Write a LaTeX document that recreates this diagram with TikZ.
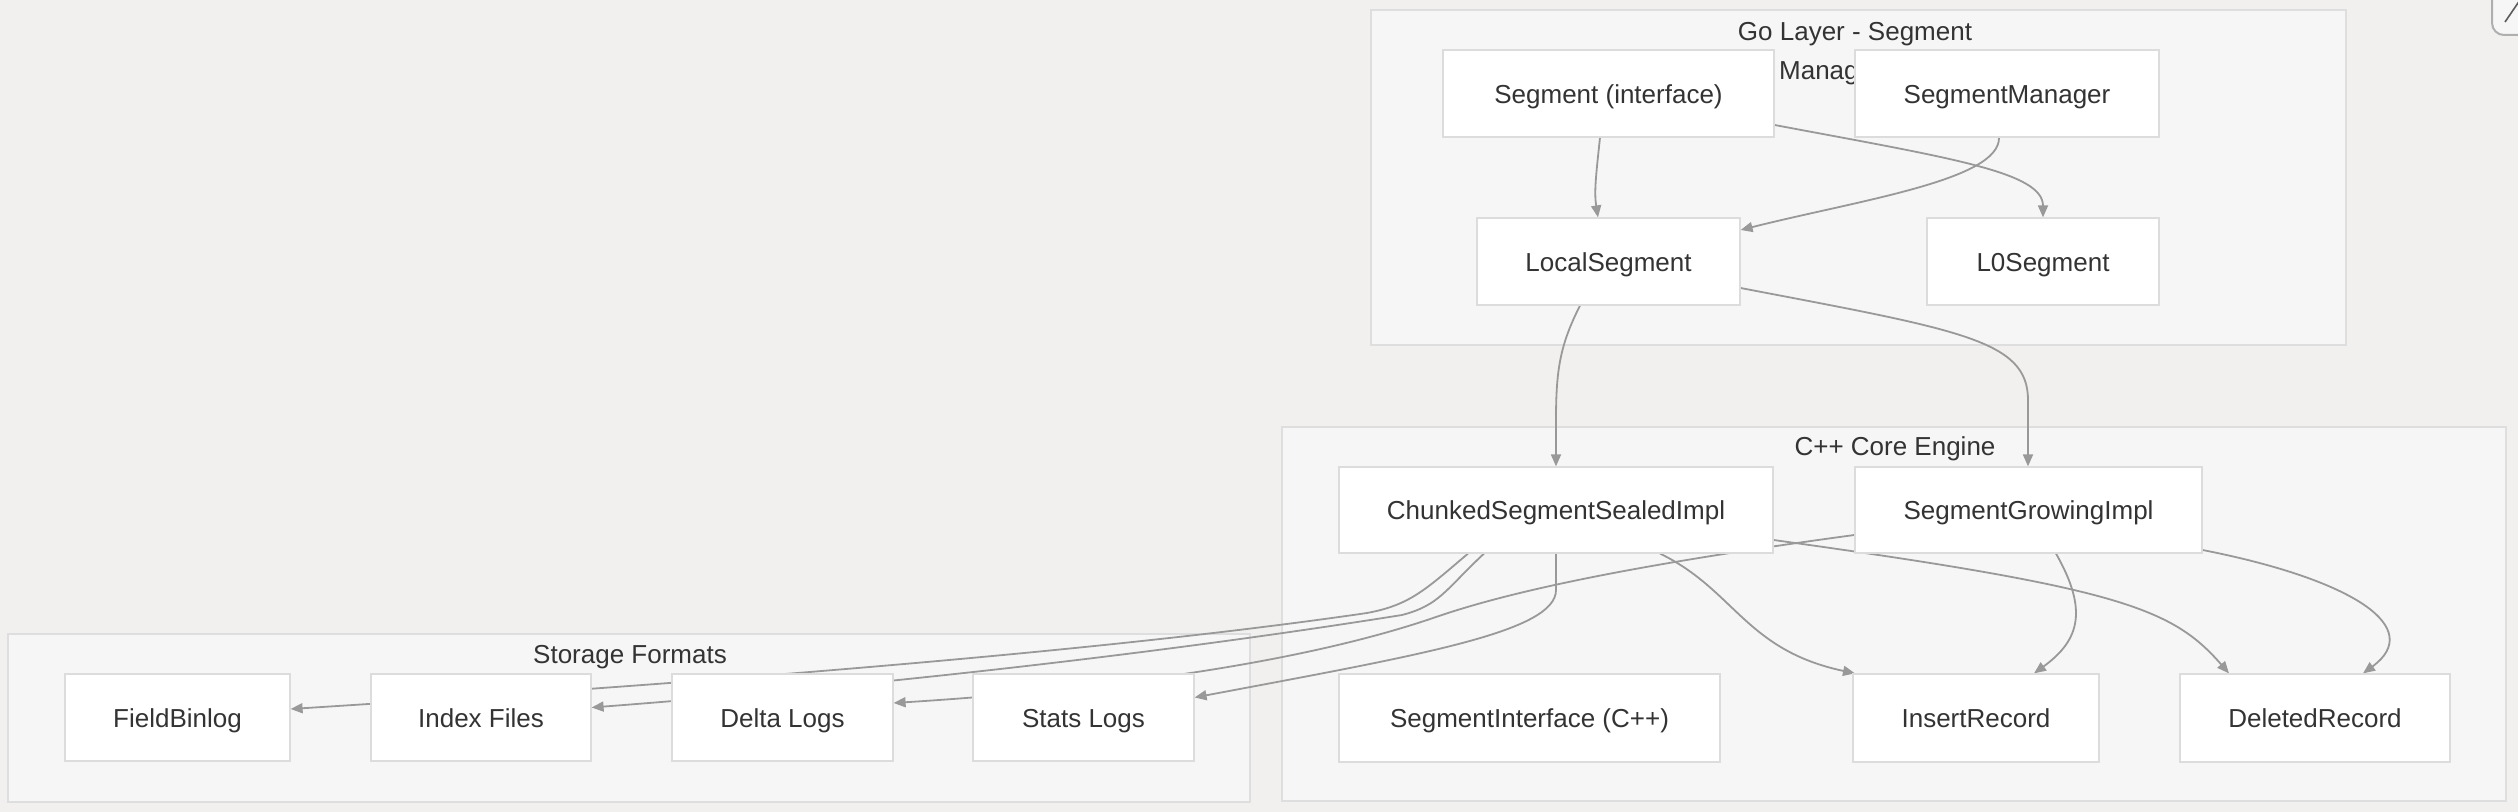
\documentclass[tikz,border=0pt]{standalone}
\usepackage{fontspec}
\setmainfont{Liberation Sans}
\usetikzlibrary{arrows.meta,calc}
\definecolor{bgc}{HTML}{F1F0EE}
\definecolor{clfill}{HTML}{F6F6F6}
\definecolor{clborder}{HTML}{DEDEDE}
\definecolor{nodeborder}{HTML}{DCDCDC}
\definecolor{edgec}{HTML}{999999}
\definecolor{txt}{HTML}{333333}
\definecolor{btnc}{HTML}{AFAFAF}
\pgfdeclarelayer{bg}
\pgfdeclarelayer{edges}
\pgfsetlayers{bg,edges,main}
\begin{document}
\begin{tikzpicture}[x=0.5pt,y=-0.5pt,
  box/.style={draw=nodeborder, line width=0.6pt, fill=white, inner sep=0pt,
    font=\fontsize{13pt}{15pt}\selectfont, text=txt, text height=9.7pt, text depth=0pt},
  cluster/.style={draw=clborder, line width=0.7pt, fill=clfill, inner sep=0pt},
  ttl/.style={font=\fontsize{13pt}{15pt}\selectfont, text=txt, inner sep=0pt, text height=9.3pt, text depth=0pt},
  edge/.style={draw=edgec, line width=0.9pt, -{Triangle[length=6pt,width=5pt]}}]
\useasboundingbox (0,0) rectangle (2518,812);

% ---------- background and clusters ----------
\begin{pgfonlayer}{bg}
  \fill[bgc] (0,0) rectangle (2518,812);
  \node[cluster, minimum width=975*0.5pt, minimum height=335*0.5pt] (goL) at (1858.5,177.5) {};
  \node[cluster, minimum width=1224*0.5pt, minimum height=374*0.5pt] (cppL) at (1894,614) {};
  \node[cluster, minimum width=1242*0.5pt, minimum height=168*0.5pt] (stL) at (629,718) {};
  \node[ttl] (goT) at (1855,31) {Go Layer - Segment};
  \node[ttl] (goT2) at (1855,70) {Management};
  \node[ttl] (cppT) at (1895,446) {C++ Core Engine};
  \node[ttl] (stT) at (630,654) {Storage Formats};
  % expand button (partly outside the picture)
  \node[draw=btnc, line width=1pt, fill=clfill, rounded corners=6pt,
        minimum width=60*0.5pt, minimum height=70*0.5pt] (btn) at (2522,0) {};
  \coordinate (btnA) at (2505,22);
  \coordinate (btnB) at (2520,0);
  \draw[txt!80, line width=0.8pt] (btnA) -- (btnB);
\end{pgfonlayer}

% ---------- nodes ----------
\node[box, minimum width=331*0.5pt, minimum height=87*0.5pt] (seg) at (1608.5,93.5) {Segment (interface)};
\node[box, minimum width=304*0.5pt, minimum height=87*0.5pt] (mgr) at (2007,93.5) {SegmentManager};
\node[box, minimum width=263*0.5pt, minimum height=87*0.5pt] (local) at (1608.5,261.5) {LocalSegment};
\node[box, minimum width=232*0.5pt, minimum height=87*0.5pt] (l0) at (2043,261.5) {L0Segment};

\node[box, minimum width=434*0.5pt, minimum height=86*0.5pt] (chunked) at (1556,510) {ChunkedSegmentSealedImpl};
\node[box, minimum width=347*0.5pt, minimum height=86*0.5pt] (growing) at (2028.5,510) {SegmentGrowingImpl};
\node[box, minimum width=381*0.5pt, minimum height=88*0.5pt] (segif) at (1529.5,718) {SegmentInterface (C++)};
\node[box, minimum width=246*0.5pt, minimum height=88*0.5pt] (insert) at (1976,718) {InsertRecord};
\node[box, minimum width=270*0.5pt, minimum height=88*0.5pt] (deleted) at (2315,718) {DeletedRecord};

\node[box, minimum width=225*0.5pt, minimum height=87*0.5pt] (fbl) at (177.5,717.5) {FieldBinlog};
\node[box, minimum width=220*0.5pt, minimum height=87*0.5pt] (idx) at (481,717.5) {Index Files};
\node[box, minimum width=221*0.5pt, minimum height=87*0.5pt] (delta) at (782.5,717.5) {Delta Logs};
\node[box, minimum width=221*0.5pt, minimum height=87*0.5pt] (stats) at (1083.5,717.5) {Stats Logs};

% ---------- edges ----------
\begin{pgfonlayer}{edges}
  % Go layer
  \draw[edge] ($(seg.south)+(-8.5,0)$) .. controls (1596,175) and (1594,192) .. ($(local.north)+(-10.5,0)$);
  \draw[edge] ($(mgr.south)+(-8,0)$) .. controls (2000,180) and (1860,200) .. ($(local.east)+(0,-31.5)$);
  \draw[edge] ($(seg.east)+(0,31.5)$) .. controls (1950,158) and (2043,172) .. (l0.north);
  \draw[edge] ($(local.south)+(-28.5,0)$) .. controls (1560,345) and (1556,370) .. (1556,420) -- (chunked.north);
  \draw[edge] ($(local.east)+(0,26.5)$) .. controls (1960,330) and (2028,340) .. (2028,400) -- ($(growing.north)+(-0.5,0)$);
  % C++ core
  \draw[edge] ($(chunked.south)+(104,0)$) .. controls (1735,590) and (1745,650) .. ($(insert.north)+(-121,0)$);
  \draw[edge] ($(growing.south)+(27.5,0)$) .. controls (2088,610) and (2080,640) .. ($(insert.north)+(58,0)$);
  \draw[edge] ($(chunked.east)+(0,30)$) .. controls (2120,588) and (2172,608) .. ($(deleted.north)+(-86,0)$);
  \draw[edge] ($(growing.east)+(0,40)$) .. controls (2355,580) and (2425,628) .. ($(deleted.north)+(48,0)$);
  % to storage
  \draw[edge] ($(chunked.south)+(-88,0)$) .. controls (1425,590) and (1410,605) .. (1367,613)
     .. controls (1100,652) and (700,683) .. ($(fbl.east)+(0,-8.5)$);
  \draw[edge] ($(chunked.south)+(-72,0)$) .. controls (1445,590) and (1440,605) .. (1402,615)
     .. controls (1120,660) and (820,690) .. ($(idx.east)+(0,-10)$);
  \draw[edge] ($(growing.west)+(0,25)$) .. controls (1610,568) and (1500,595) .. (1436,617)
     .. controls (1300,664) and (1100,690) .. ($(delta.east)+(0,-14.5)$);
  \draw[edge] (chunked.south) -- (1556,590) .. controls (1556,632) and (1420,655) .. ($(stats.east)+(0,-20)$);
\end{pgfonlayer}
\end{tikzpicture}
\end{document}
